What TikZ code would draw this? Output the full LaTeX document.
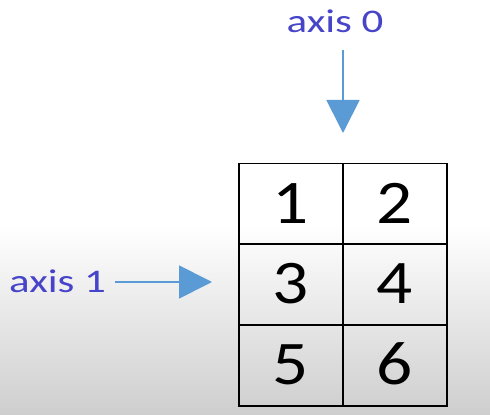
\documentclass[tikz,border=0pt]{standalone}
\usepackage{fontspec}
\setmainfont{Carlito}
\usetikzlibrary{arrows.meta}
\definecolor{axtext}{RGB}{70,68,200}
\definecolor{axarrow}{RGB}{91,155,213}
\definecolor{bgbottom}{RGB}{206,206,206}
\tikzset{
  cell/.style={draw=black, line width=1.6pt, minimum width=104pt, minimum height=81pt,
    inner sep=0pt, text height=39pt, text depth=0pt,
    font=\fontsize{62}{62}\selectfont},
  axlabel/.style={text=axtext, inner sep=0pt, anchor=base,
    font=\fontsize{33}{33}\selectfont},
  axarr/.style={draw=axarrow, line width=1.8pt, -{Triangle[length=33pt,width=33pt]}}
}
\begin{document}
\begin{tikzpicture}[x=1pt,y=1pt]
  \useasboundingbox (0,0) rectangle (490,415);
  \fill[white] (0,0) rectangle (490,415);
  \shade[top color=white, bottom color=bgbottom] (0,0) rectangle (490,190);
  % grid
  \node[cell] (c1) at (291,211) {\scalebox{1.15}[1]{1}};
  \node[cell] (c2) at (395,211) {\scalebox{1.15}[1]{2}};
  \node[cell] (c3) at (291,130.5) {\scalebox{1.15}[1]{3}};
  \node[cell] (c4) at (395,130.5) {\scalebox{1.15}[1]{4}};
  \node[cell] (c5) at (291,49.5) {\scalebox{1.15}[1]{5}};
  \node[cell] (c6) at (395,49.5) {\scalebox{1.15}[1]{6}};
  % axis 0
  \node[axlabel] (ax0) at (335,382) {\scalebox{1.3}[1]{axis 0}};
  \coordinate (a0s) at (343,365);
  \coordinate (a0e) at (343,282);
  \draw[axarr] (a0s) -- (a0e);
  % axis 1
  \node[axlabel] (ax1) at (57.5,122) {\scalebox{1.3}[1]{axis 1}};
  \coordinate (a1s) at (115,133);
  \coordinate (a1e) at (212,133);
  \draw[axarr] (a1s) -- (a1e);
\end{tikzpicture}
\end{document}
